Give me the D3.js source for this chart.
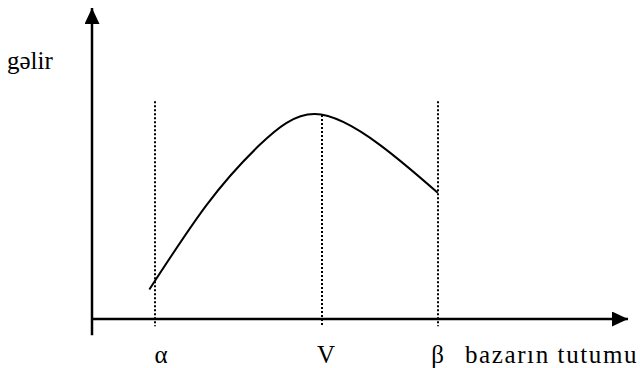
<!DOCTYPE html>
<html>
<head>
<meta charset="utf-8">
<script src="https://cdn.jsdelivr.net/npm/d3@7"></script>
<style>
  body { margin: 0; background: #fff; }
</style>
</head>
<body>
<div class="chart"></div>
<script>
// gelir egrisi (market capacity on x, income on y)
var capacity = [10.7, 21.4, 31.3, 41.6, 53.7, 64.5];
var income   = [ 9.5, 36.7, 56.0, 65.9, 56.0, 40.6];

var markNames = ["\u03b1", "V", "\u03b2"];
var markX     = [11.75, 42.9, 64.5];
var markTop   = [70, 65.6, 70];

var yLabel = "gəlir";
var xLabel = "bazarın tutumu";

var serif = "Liberation Serif, Times New Roman, Times, DejaVu Serif, serif";

var w = 640,
    h = 368;

var x = d3.scaleLinear().domain([0, 100]).range([92, 628]);
var y = d3.scaleLinear().domain([0, 100]).range([319, 8]);

var svg = d3.select(".chart").append("svg")
    .attr("width", w)
    .attr("height", h);

var defs = svg.append("defs");
defs.append("marker")
    .attr("id", "arrow")
    .attr("markerUnits", "userSpaceOnUse")
    .attr("viewBox", "0 0 16 15")
    .attr("refX", 16).attr("refY", 7.5)
    .attr("markerWidth", 16).attr("markerHeight", 15)
    .attr("orient", "auto")
  .append("path")
    .attr("d", "M0,0L16,7.5L0,15Z")
    .attr("fill", "#000");

// dotted guides
svg.selectAll("line.guide").data(markX).enter().append("line")
    .attr("class", "guide")
    .attr("x1", function(d) { return Math.round(x(d)); })
    .attr("x2", function(d) { return Math.round(x(d)); })
    .attr("y1", function(d, i) { return y(markTop[i]); })
    .attr("y2", y(-2.3))
    .attr("stroke", "#000")
    .attr("stroke-width", 2)
    .attr("stroke-dasharray", "2,2");

// axes
svg.append("line")
    .attr("x1", x(0)).attr("x2", x(0))
    .attr("y1", y(-5.2)).attr("y2", y(100))
    .attr("stroke", "#000").attr("stroke-width", 2.5)
    .attr("marker-end", "url(#arrow)");
svg.append("line")
    .attr("x1", x(0)).attr("x2", x(100))
    .attr("y1", y(0)).attr("y2", y(0))
    .attr("stroke", "#000").attr("stroke-width", 2.5)
    .attr("marker-end", "url(#arrow)");

// curve
var pts = capacity.map(function(c, i) { return [c, income[i]]; });
var line = d3.line()
    .x(function(d) { return x(d[0]); })
    .y(function(d) { return y(d[1]); })
    .curve(d3.curveNatural);
svg.append("path")
    .datum(pts)
    .attr("d", line)
    .attr("fill", "none")
    .attr("stroke", "#000")
    .attr("stroke-width", 2);

// labels
svg.selectAll("text.mark").data(markNames).enter().append("text")
    .attr("class", "mark")
    .attr("x", function(d, i) { return x(markX[i]) + (i == 2 ? 0 : (i == 0 ? 6 : 4)); })
    .attr("y", 363)
    .attr("text-anchor", "middle")
    .attr("font-family", serif)
    .attr("font-size", 25)
    .text(function(d) { return d; });

svg.append("text")
    .attr("x", 465).attr("y", 363)
    .attr("font-family", serif)
    .attr("font-size", 25)
    .attr("letter-spacing", 1.6)
    .text(xLabel);

svg.append("text")
    .attr("x", 7).attr("y", 69)
    .attr("font-family", serif)
    .attr("font-size", 25)
    .text(yLabel);
</script>
</body>
</html>
